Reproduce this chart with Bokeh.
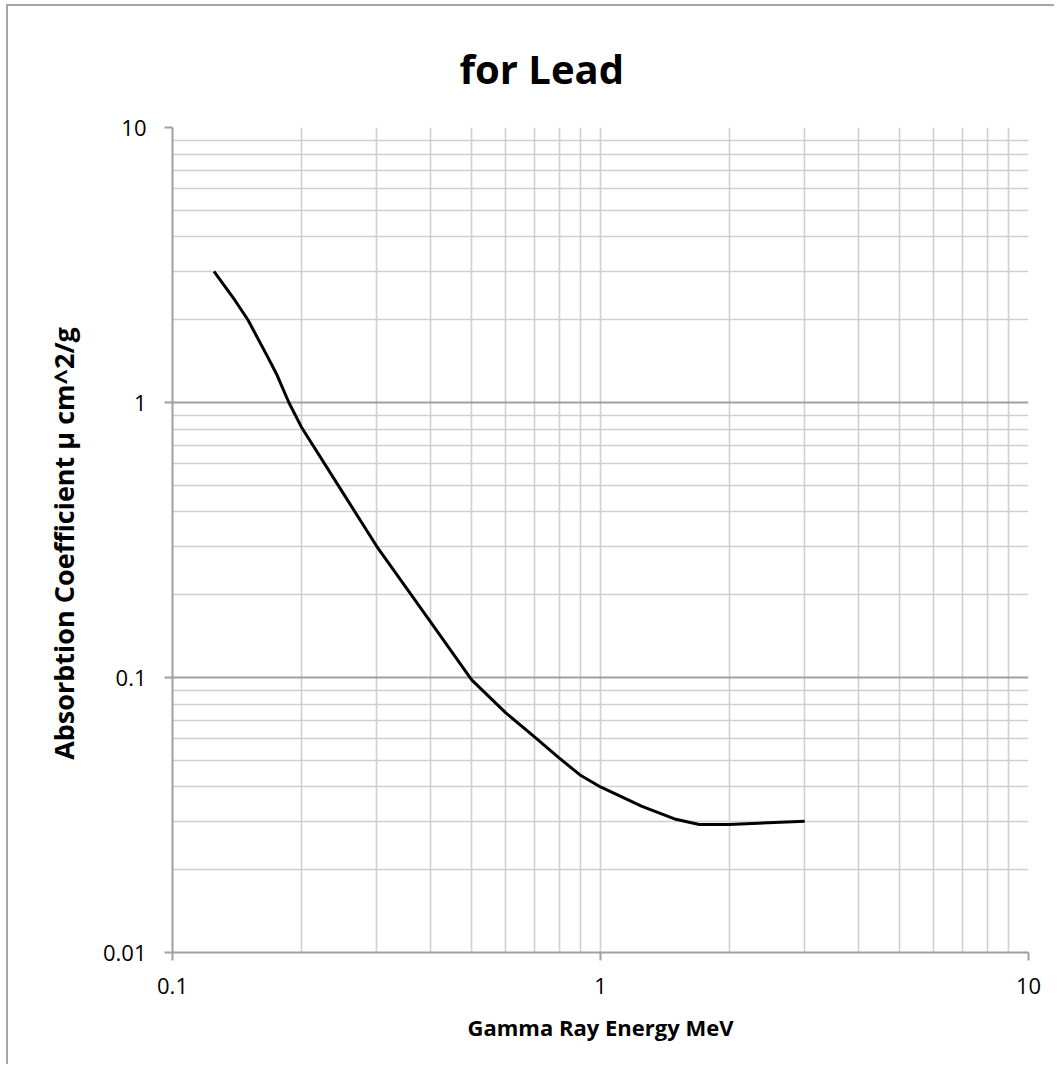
from bokeh.plotting import figure
from bokeh.models import FixedTicker, CustomJSTickFormatter, Range1d
from bokeh.embed import file_html
from bokeh.resources import INLINE

# Data
energy_mev = [0.125, 0.14, 0.15, 0.1665, 0.175, 0.187, 0.2, 0.25, 0.3, 0.4, 0.5, 0.6, 0.7, 0.8, 0.9, 1.0, 1.25, 1.5, 1.7, 2.0, 3.0]
mu_cm2_g = [3.0, 2.35, 2.0, 1.475, 1.27, 1.0, 0.815, 0.47, 0.30, 0.16, 0.098, 0.0745, 0.061, 0.051, 0.044, 0.040, 0.0340, 0.0305, 0.0292, 0.0292, 0.030]

x_major = [0.1, 1, 10]
x_minor = [0.2, 0.3, 0.4, 0.5, 0.6, 0.7, 0.8, 0.9, 2, 3, 4, 5, 6, 7, 8, 9]
y_major = [0.01, 0.1, 1, 10]
y_minor = [0.02, 0.03, 0.04, 0.05, 0.06, 0.07, 0.08, 0.09,
           0.2, 0.3, 0.4, 0.5, 0.6, 0.7, 0.8, 0.9,
           2, 3, 4, 5, 6, 7, 8, 9]

title_text = "for Lead"
x_label = "Gamma Ray Energy MeV"
y_label = "Absorbtion Coefficient  \u03bc cm^2/g"

FONT = "Open Sans"
AXIS_DARK = "#a0a0a0"
GRID_LIGHT = "#cfcfcf"

p = figure(width=1048, height=1060, x_axis_type="log", y_axis_type="log",
           x_range=Range1d(0.1, 10), y_range=Range1d(0.01, 10),
           output_backend="svg", toolbar_location=None,
           min_border_left=164, min_border_right=28, min_border_top=120, min_border_bottom=114)
p.margin = (4, 0, 0, 6)
p.styles = {"border-left": "2px solid #a6a6a6", "border-top": "2px solid #a6a6a6"}
p.outline_line_color = None
p.background_fill_color = "white"
p.border_fill_color = "white"

p.title.text = title_text
p.title.align = "left"
p.title.vertical_align = "bottom"
p.title.text_font = FONT
p.title.text_font_size = "40px"
p.title.text_font_style = "bold"
p.title.text_color = "black"
p.title.offset = 287
p.title.standoff = 64

for ax, ticks, minors in ((p.xaxis[0], x_major, x_minor), (p.yaxis[0], y_major, y_minor)):
    ax.ticker = FixedTicker(ticks=ticks, minor_ticks=minors)
    ax.formatter = CustomJSTickFormatter(code="return tick.toString();")
    ax.axis_line_color = AXIS_DARK
    ax.axis_line_width = 2
    ax.major_tick_line_color = AXIS_DARK
    ax.major_tick_line_width = 2
    ax.major_tick_out = 8
    ax.major_tick_in = 0
    ax.minor_tick_line_color = None
    ax.major_label_text_font = FONT
    ax.major_label_text_font_size = "22px"
    ax.major_label_text_color = "black"
    ax.axis_label_text_font = FONT
    ax.axis_label_text_font_style = "bold"
    ax.axis_label_text_color = "black"

p.xaxis.major_label_standoff = 17
p.yaxis.major_label_standoff = 18
p.xaxis.axis_label = x_label
p.xaxis.axis_label_text_font_size = "22px"
p.xaxis.axis_label_standoff = 15
p.yaxis.axis_label = y_label
p.yaxis.axis_label_text_font_size = "27px"
p.yaxis.axis_label_standoff = 18

p.xgrid.ticker = FixedTicker(ticks=x_major, minor_ticks=x_minor)
p.ygrid.ticker = FixedTicker(ticks=y_major, minor_ticks=y_minor)
p.xgrid.grid_line_color = GRID_LIGHT
p.xgrid.grid_line_width = 1.6
p.xgrid.minor_grid_line_color = GRID_LIGHT
p.xgrid.minor_grid_line_width = 1.6
p.ygrid.grid_line_color = AXIS_DARK
p.ygrid.grid_line_width = 1.8
p.ygrid.minor_grid_line_color = GRID_LIGHT
p.ygrid.minor_grid_line_width = 1.6

p.line(energy_mev, mu_cm2_g, line_color="black", line_width=3, line_join="round")

open("out.html", "w").write(file_html(p, INLINE))
